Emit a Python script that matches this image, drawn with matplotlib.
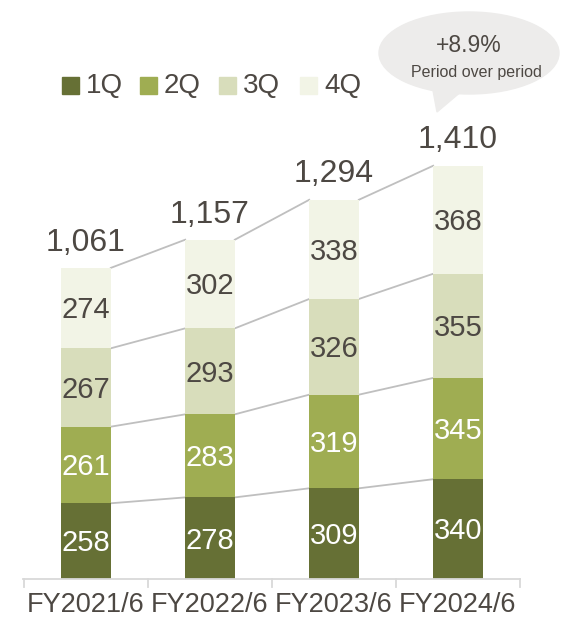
import matplotlib.pyplot as plt
from matplotlib.patches import Ellipse, Polygon, Rectangle

plt.rcParams['font.family'] = ['Liberation Sans', 'DejaVu Sans']

years = ['FY2021/6', 'FY2022/6', 'FY2023/6', 'FY2024/6']
quarters = ['1Q', '2Q', '3Q', '4Q']
q1 = [258, 278, 309, 340]
q2 = [261, 283, 319, 345]
q3 = [267, 293, 326, 355]
q4 = [274, 302, 338, 368]
totals = [1061, 1157, 1294, 1410]
growth = '+8.9%'

colors = ['#667035', '#9FAD52', '#D8DDBB', '#F2F4E6']
label_colors = ['white', 'white', '#4D4843', '#4D4843']
text_col = '#4D4843'

W, H = 576, 623
fig = plt.figure(figsize=(W / 100, H / 100), dpi=100)
base_px = 579
ax = fig.add_axes([0, (H - base_px) / H, 1, base_px / H])
ax.set_xlim(-86 / 124, (W - 86) / 124)
ax.set_ylim(0, base_px / 0.2935)
ax.axis('off')

x = list(range(len(years)))
bw = 0.40
series = [q1, q2, q3, q4]
bottoms = [0] * len(years)
tops = []
for vals, c, lc in zip(series, colors, label_colors):
    ax.bar(x, vals, bw, bottom=bottoms, color=c, zorder=2)
    for i, v in enumerate(vals):
        ax.text(i, bottoms[i] + v / 2 - 8, str(v), ha='center', va='center',
                fontsize=21, color=lc, zorder=3)
    bottoms = [b + v for b, v in zip(bottoms, vals)]
    tops.append(list(bottoms))

# connector lines between the tops of each quarter segment
for level in tops:
    for i in range(len(years) - 1):
        ax.plot([i + bw / 2, i + 1 - bw / 2], [level[i], level[i + 1]],
                color='#BFBFBF', lw=1.3, zorder=1)

for i, t in enumerate(totals):
    ax.annotate(f'{t:,}', (i, t), xytext=(0, 7), textcoords='offset points',
                ha='center', va='bottom', fontsize=23, color=text_col)

# category axis with separators
ax.plot([-0.508, 3.5], [0, 0], color='#D9D9D9', lw=1.3, clip_on=False)
for s in [-0.5, 0.5, 1.5, 2.5, 3.5]:
    ax.plot([s, s], [0, -28], color='#D9D9D9', lw=1.3, clip_on=False)
for i, yr in enumerate(years):
    ax.text(i, -44, yr, ha='center', va='top', fontsize=19.5, color=text_col)

# legend
lx = [62, 140, 219, 300]
for px, c, q in zip(lx, colors, quarters):
    fig.patches.append(Rectangle((px / W, 1 - 94 / H), 17 / W, 17 / H,
                                 transform=fig.transFigure, color=c))
    fig.text((px + 24) / W, 1 - 86 / H, q, fontsize=20, color=text_col,
             va='center', ha='left')

# growth callout
bubble = '#EDECEB'
fig.patches.append(Ellipse((469 / W, 1 - 53 / H), 180 / W, 82 / H,
                           transform=fig.transFigure, color=bubble))
fig.patches.append(Polygon([(432 / W, 1 - 85 / H), (463 / W, 1 - 90 / H),
                            (437 / W, 1 - 112 / H)],
                           transform=fig.transFigure, color=bubble))
fig.text(469 / W, 1 - 46 / H, growth, ha='center', va='center',
         fontsize=16.5, color=text_col)
fig.text(476 / W, 1 - 72 / H, 'Period over period', ha='center',
         va='center', fontsize=11.5, color=text_col)

fig.savefig('out.png', dpi=100)
